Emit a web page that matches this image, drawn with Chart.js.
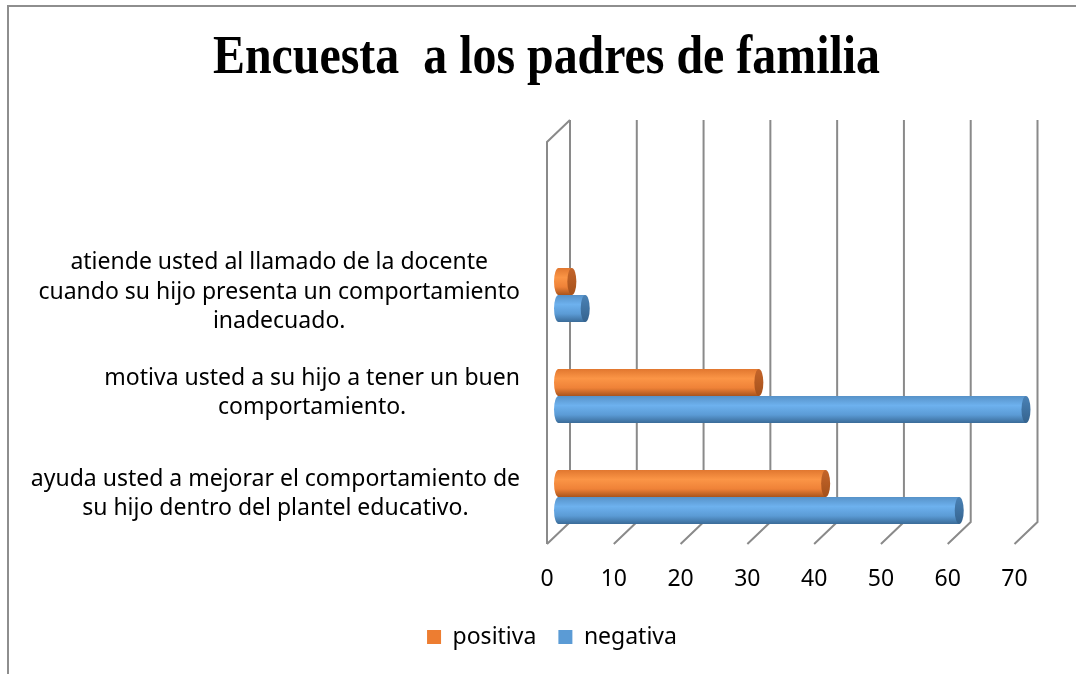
<!DOCTYPE html>
<html>
<head>
<meta charset="utf-8">
<script src="https://cdn.jsdelivr.net/npm/chart.js@4.4.0/dist/chart.umd.min.js"></script>
<style>
  html, body { margin: 0; padding: 0; background: #fff; }
  #wrap { position: relative; width: 1076px; height: 674px; overflow: hidden; }
  #marco { position: absolute; left: 7px; top: 5px; width: 1200px; height: 800px;
           border-left: 2px solid #8e8e8e; border-top: 2px solid #8e8e8e; }
  canvas { position: absolute; left: 0; top: 0; }
</style>
</head>
<body>
<div id="wrap">
  <div id="marco"></div>
  <canvas id="grafico" width="1076" height="674"></canvas>
</div>
<script>
const titulo = 'Encuesta  a los padres de familia';
const preguntas = [
  ['atiende usted al llamado de la docente', 'cuando su hijo presenta un comportamiento', 'inadecuado.'],
  ['motiva usted a su hijo a tener un buen', 'comportamiento.'],
  ['ayuda usted a mejorar el comportamiento de', 'su hijo dentro del plantel educativo.']
];
const positiva = [2, 30, 40];
const negativa = [4, 70, 60];
const ejeMin = 0;
const ejeMax = 70;
const ejePaso = 10;

const fuente = '"Noto Sans", "Open Sans", sans-serif';

// titulo en serif negrita, algo comprimido como en el original
const tituloPlugin = {
  id: 'tituloPlugin',
  afterDraw(chart) {
    const ctx = chart.ctx;
    ctx.save();
    ctx.font = 'bold 54px "Liberation Serif", "Times New Roman", serif';
    const w = ctx.measureText(titulo).width;
    ctx.translate(546.5, 73);
    ctx.scale(667 / w, 1);
    ctx.fillStyle = '#000';
    ctx.textAlign = 'center';
    ctx.textBaseline = 'alphabetic';
    ctx.fillText(titulo, 0, 0);
    ctx.restore();
  }
};

// paredes y piso en perspectiva
const dx = 11.5, dy = 11;
const marco3d = {
  id: 'marco3d',
  beforeDatasetsDraw(chart) {
    const ctx = chart.ctx;
    const xs = chart.scales.x;
    const pisoY = 533, techoY = 131;
    ctx.save();
    ctx.strokeStyle = '#8a8a8a';
    ctx.lineWidth = 2;
    for (let v = ejeMin; v <= ejeMax; v += ejePaso) {
      const x = xs.getPixelForValue(v);
      ctx.beginPath();
      ctx.moveTo(x + dx, techoY - dy);
      ctx.lineTo(x + dx, pisoY - dy);
      ctx.lineTo(x - dx, pisoY + dy);
      ctx.stroke();
    }
    const x0 = xs.getPixelForValue(ejeMin);
    ctx.beginPath();
    ctx.moveTo(x0 - dx, pisoY + dy);
    ctx.lineTo(x0 - dx, techoY + dy);
    ctx.lineTo(x0 + dx, techoY - dy);
    ctx.stroke();
    ctx.restore();
  }
};

// cilindros encima de las barras
const colores = {
  positiva: { cuerpo: ['#E1772F', '#FB9546', '#EF8238', '#A9541C'], tapa: ['#C4652A', '#A5511B'] },
  negativa: { cuerpo: ['#5792C8', '#6DB1EE', '#5B9BD5', '#3A6B98'], tapa: ['#4A82B6', '#35638E'] }
};
const cilindros = {
  id: 'cilindros',
  afterDatasetsDraw(chart) {
    const ctx = chart.ctx;
    chart.data.datasets.forEach((ds, i) => {
      const c = colores[ds.label];
      chart.getDatasetMeta(i).data.forEach(el => {
        const { x, y, base, height } = el.getProps(['x', 'y', 'base', 'height'], true);
        const h = height, top = y - h / 2, bot = y + h / 2;
        const rx = 4.5;
        const g = ctx.createLinearGradient(0, top, 0, bot);
        g.addColorStop(0, c.cuerpo[0]);
        g.addColorStop(0.35, c.cuerpo[1]);
        g.addColorStop(0.7, c.cuerpo[2]);
        g.addColorStop(1, c.cuerpo[3]);
        ctx.save();
        ctx.fillStyle = g;
        ctx.beginPath();
        ctx.moveTo(x, top);
        ctx.lineTo(base, top);
        ctx.ellipse(base, y, rx, h / 2, 0, -Math.PI / 2, Math.PI / 2, true);
        ctx.lineTo(x, bot);
        ctx.closePath();
        ctx.fill();
        const gt = ctx.createLinearGradient(0, top, 0, bot);
        gt.addColorStop(0, c.tapa[0]);
        gt.addColorStop(1, c.tapa[1]);
        ctx.fillStyle = gt;
        ctx.beginPath();
        ctx.ellipse(x, y, rx, h / 2, 0, 0, Math.PI * 2);
        ctx.fill();
        ctx.restore();
      });
    });
  }
};

// etiquetas de categoria centradas linea por linea
const etiquetas = {
  id: 'etiquetas',
  afterDraw(chart) {
    const ctx = chart.ctx;
    const ys = chart.scales.y;
    const derecha = chart.scales.x.getPixelForValue(ejeMin) - 38.5;
    const alto = 29.5;
    ctx.save();
    ctx.font = '23px ' + fuente;
    ctx.fillStyle = '#000';
    ctx.textAlign = 'center';
    ctx.textBaseline = 'middle';
    preguntas.forEach((lineas, i) => {
      const yc = ys.getPixelForValue(i) - 3;
      const ancho = Math.max(...lineas.map(l => ctx.measureText(l).width));
      const xc = derecha - ancho / 2;
      lineas.forEach((l, j) => {
        ctx.fillText(l, xc, yc + (j - (lineas.length - 1) / 2) * alto);
      });
    });
    ctx.restore();
  }
};

new Chart(document.getElementById('grafico'), {
  type: 'bar',
  data: {
    labels: preguntas,
    datasets: [
      { label: 'positiva', data: positiva, backgroundColor: '#ED7D31' },
      { label: 'negativa', data: negativa, backgroundColor: '#5B9BD5' }
    ]
  },
  options: {
    indexAxis: 'y',
    responsive: false,
    animation: false,
    layout: { padding: { top: 244.5, right: 50, bottom: 15.5, left: 78 } },
    datasets: { bar: { barPercentage: 1, categoryPercentage: 0.535 } },
    scales: {
      x: {
        min: ejeMin,
        max: ejeMax,
        ticks: { stepSize: ejePaso, labelOffset: -dx, padding: 18, color: '#000', font: { family: fuente, size: 23 } },
        grid: { display: false, drawTicks: false },
        border: { display: false },
        afterFit: s => { s.height = 56; }
      },
      y: {
        ticks: { display: false },
        grid: { display: false },
        border: { display: false },
        afterFit: s => { s.width = 480.5; }
      }
    },
    plugins: {
      legend: {
        position: 'bottom',
        labels: { boxWidth: 14, boxHeight: 14, padding: 22, color: '#000', font: { family: fuente, size: 23 } }
      },
      tooltip: { enabled: false }
    }
  },
  plugins: [marco3d, cilindros, etiquetas, tituloPlugin]
});
</script>
</body>
</html>
